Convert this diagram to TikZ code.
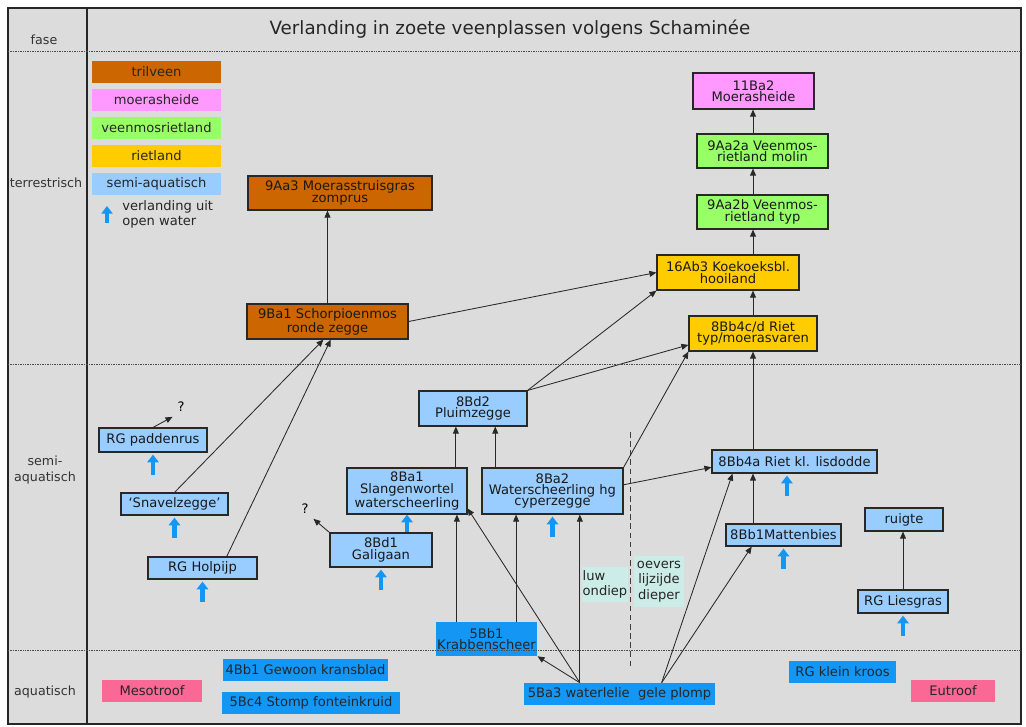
\documentclass[tikz,border=0pt]{standalone}
\usepackage{fontspec}
\setmainfont{DejaVu Sans}
\usetikzlibrary{arrows.meta,calc}

\definecolor{bggrey}{RGB}{220,220,220}
\definecolor{trilcol}{RGB}{204,102,0}
\definecolor{heidecol}{RGB}{255,153,255}
\definecolor{mosrcol}{RGB}{153,255,102}
\definecolor{rietcol}{RGB}{255,204,0}
\definecolor{semicol}{RGB}{153,204,255}
\definecolor{aquacol}{RGB}{20,150,245}
\definecolor{trofcol}{RGB}{250,105,150}
\definecolor{luwcol}{RGB}{204,236,232}
\definecolor{pijlcol}{RGB}{20,150,245}
\definecolor{lijncol}{RGB}{40,40,40}

\newcommand{\boxfont}{\fontsize{9.3}{8}\selectfont}

\begin{document}
\begin{tikzpicture}[
    x=0.025cm, y=-0.025cm,
    dims/.style 2 args={minimum width=#1*0.025cm, minimum height=#2*0.025cm},
    veg/.style={rectangle, draw=lijncol, line width=0.8pt, align=center, inner sep=1pt, font=\boxfont, text=black!90},
    trilveen/.style={veg, fill=trilcol},
    heide/.style={veg, fill=heidecol},
    mosriet/.style={veg, fill=mosrcol},
    riet/.style={veg, fill=rietcol},
    semi/.style={veg, fill=semicol},
    aqua/.style={rectangle, fill=aquacol, align=center, inner sep=1pt, font=\boxfont, text=black!85},
    trof/.style={rectangle, fill=trofcol, align=center, inner sep=1pt, font=\boxfont, text=black!85},
    note/.style={rectangle, fill=luwcol, align=center, inner sep=0pt, font=\fontsize{9.3}{11}\selectfont, text=black!85},
    legend/.style={rectangle, align=center, inner sep=0pt, font=\boxfont, text=black!85, dims={129}{22}},
    arr/.style={draw=lijncol, line width=0.6pt, -{Triangle[length=5pt,width=4.2pt]}},
    openw/.style={draw=pijlcol, line width=3pt, -{Triangle[length=5.5pt,width=8pt]}},
    fase/.style={font=\fontsize{9}{11}\selectfont, text=black!80, align=center},
    grens/.style={draw=black!70, line width=0.6pt, dash pattern=on 0.6pt off 0.6pt}
]
\useasboundingbox (0,0) rectangle (1026,726);

% Frame and phase column
\fill[bggrey] (8,8) rectangle (1021,724);
\draw[line width=1pt, black!85] (8,8) rectangle (1021,724);
\draw[line width=1pt, black!85] (87,8) -- (87,724);

\node[font=\fontsize{13}{15}\selectfont, text=black!85] (title) at (510,29) {Verlanding in zoete veenplassen volgens Schaminée};
\node[fase] (fase) at (44,40) {fase};
\node[fase] (terr) at (46,183) {terrestrisch};
\node[fase] (semiaq) at (45,470) {semi-\\aquatisch};
\node[fase] (aquat) at (45,692) {aquatisch};

% Legend
\foreach \txt/\col [count=\i] in {trilveen/trilcol, moerasheide/heidecol, veenmosrietland/mosrcol, rietland/rietcol, semi-aquatisch/semicol}
    \node[legend, fill=\col] (leg\i) at (156.5,{44.1+27.9*\i}) {\txt};
\node[font=\fontsize{9.3}{10.7}\selectfont, align=left, anchor=west, inner sep=0pt, text=black!85] (legtext) at (122,214.5) {verlanding uit\\open water};
\coordinate (legfoot) at (107,223);
\coordinate (legtip) at (107,206);
\draw[openw] (legfoot) -- (legtip);

% Terrestrial types
\node[trilveen, dims={184}{34}] (zomprus) at (340,193) {9Aa3 Moerasstruisgras\\zomprus};
\node[heide, dims={121}{36}] (moerasheide) at (753.5,91) {11Ba2\\Moerasheide};
\node[mosriet, dims={131}{34}] (molin) at (762.5,151) {9Aa2a Veenmos-\\rietland molin};
\node[mosriet, dims={131}{34}] (mostyp) at (762.5,212) {9Aa2b Veenmos-\\rietland typ};
\node[riet, dims={142}{35}] (hooiland) at (728,272.5) {16Ab3 Koekoeksbl.\\hooiland};
\node[riet, dims={128}{35}] (rietvaren) at (753,333.5) {8Bb4c/d Riet\\typ/moerasvaren};
\node[trilveen, dims={161}{35}] (schorpioen) at (327.5,321.5) {9Ba1 Schorpioenmos\\ronde zegge};

% Semi-aquatic types
\node[semi, dims={108}{35}] (pluim) at (473,408.5) {8Bd2\\Pluimzegge};
\node[semi, dims={120}{46}] (slangen) at (407,491) {8Ba1\\Slangenwortel\\waterscheerling};
\node[semi, dims={141}{46}] (cyper) at (552.5,491) {8Ba2\\Waterscheerling hg\\cyperzegge};
\node[semi, dims={102}{34}] (galigaan) at (381,550) {8Bd1\\Galigaan};
\node[semi, dims={108}{24}] (padden) at (153,440) {RG paddenrus};
\node[semi, dims={107}{22}] (snavel) at (174.5,504) {‘Snavelzegge’};
\node[semi, dims={109}{22}] (holpijp) at (202.5,568) {RG Holpijp};
\node[semi, dims={165}{23}] (lisdodde) at (794.5,461.5) {8Bb4a Riet kl. lisdodde};
\node[semi, dims={115}{22}] (matten) at (783.5,535) {8Bb1Mattenbies};
\node[semi, dims={78}{23}] (ruigte) at (904,519.5) {ruigte};
\node[semi, dims={90}{23}] (liesgras) at (903,601.5) {RG Liesgras};
\node[font=\boxfont] (q1) at (181,407) {?};
\node[font=\boxfont] (q2) at (305,509) {?};

% Notes on the water side
\node[note, dims={46}{35}, align=left] (luw) at (605,584.5) {luw\\ondiep};
\node[note, dims={50}{51}] (oevers) at (659,581.5) {oevers\\lijzijde\\dieper};
\draw[black!75, line width=0.7pt, dash pattern=on 4pt off 2.5pt] (630,432) -- (630,667);

% Aquatic types
\node[aqua, dims={101}{34}] (krabben) at (486.5,639) {5Bb1\\Krabbenscheer};
\node[aqua, dims={191}{22}] (plomp) at (619.5,694) {5Ba3 waterlelie\ \ gele plomp};
\node[aqua, dims={165}{22}] (kransblad) at (305.5,670) {4Bb1 Gewoon kransblad};
\node[aqua, dims={178}{22}] (fonteinkruid) at (311,703) {5Bc4 Stomp fonteinkruid};
\node[aqua, dims={107}{22}] (kroos) at (842.5,672) {RG klein kroos};
\node[trof, dims={100}{22}] (meso) at (152,691) {Mesotroof};
\node[trof, dims={84}{22}] (eu) at (953,691) {Eutroof};

% Succession arrows
\coordinate (spine) at (753,0);
\draw[arr] (molin.north -| spine) -- (moerasheide.south -| spine);
\draw[arr] (mostyp.north -| spine) -- (molin.south -| spine);
\draw[arr] (hooiland.north -| spine) -- (mostyp.south -| spine);
\draw[arr] (rietvaren.north -| spine) -- (hooiland.south -| spine);
\draw[arr] (lisdodde.north -| spine) -- (rietvaren.south -| spine);
\draw[arr] (matten.north -| spine) -- (lisdodde.south -| spine);

\draw[arr] (schorpioen.north) -- (schorpioen.north |- zomprus.south);
\draw[arr] (schorpioen.east) -- (hooiland.west);
\draw[arr] (pluim.north east) -- (hooiland.south west);
\draw[arr] (pluim.north east) -- (rietvaren.190);
\draw[arr] (cyper.north east) -- (rietvaren.south west);
\draw[arr] (cyper.5) -- (lisdodde.184);

\coordinate (p1) at ($(pluim.south west)!0.343!(pluim.south east)$);
\coordinate (p2) at ($(pluim.south west)!0.704!(pluim.south east)$);
\draw[arr] (p1 |- slangen.north) -- (p1);
\draw[arr] (p2 |- cyper.north) -- (p2);

\coordinate (s1) at ($(schorpioen.south west)!0.475!(schorpioen.south east)$);
\coordinate (s2) at ($(schorpioen.south west)!0.52!(schorpioen.south east)$);
\draw[arr] (snavel.north) -- (s1);
\draw[arr] ($(holpijp.north west)!0.72!(holpijp.north east)$) -- (s2);

\coordinate (k1) at ($(krabben.north west)!0.21!(krabben.north east)$);
\coordinate (k2) at ($(krabben.north west)!0.79!(krabben.north east)$);
\draw[arr] (k1) -- (k1 |- slangen.south);
\draw[arr] (k2) -- (k2 |- cyper.south);

\coordinate (w1) at ($(plomp.north west)!0.293!(plomp.north east)$);
\coordinate (w2) at ($(plomp.north west)!0.72!(plomp.north east)$);
\draw[arr] (w1) -- (slangen.344);
\draw[arr] (w1) -- (krabben.south east);
\draw[arr] (w1) -- (w1 |- cyper.south);
\draw[arr] (w2) -- ($(lisdodde.south west)!0.127!(lisdodde.south east)$);
\draw[arr] (w2) -- ($(matten.south west)!0.226!(matten.south east)$);
\draw[arr] (liesgras.north) -- (liesgras.north |- ruigte.south);
\draw[arr] (padden.north) -- (q1.south west);
\draw[arr] (galigaan.north west) -- (q2.south east);

% Verlanding uit open water
\foreach \nd in {padden, snavel, holpijp, galigaan, cyper, matten, liesgras}
    \draw[openw] ([yshift=-0.56cm]\nd.south) -- ([yshift=-0.05cm]\nd.south);
\draw[openw] ([xshift=-0.19cm,yshift=-0.56cm]lisdodde.south) -- ([xshift=-0.19cm,yshift=-0.05cm]lisdodde.south);
\draw[openw] (galigaan.north -| slangen.south) -- (slangen.south);

% Phase boundaries
\foreach \yy in {51,364,650}
    \draw[grens] (8,\yy) -- (1021,\yy);
\end{tikzpicture}
\end{document}
